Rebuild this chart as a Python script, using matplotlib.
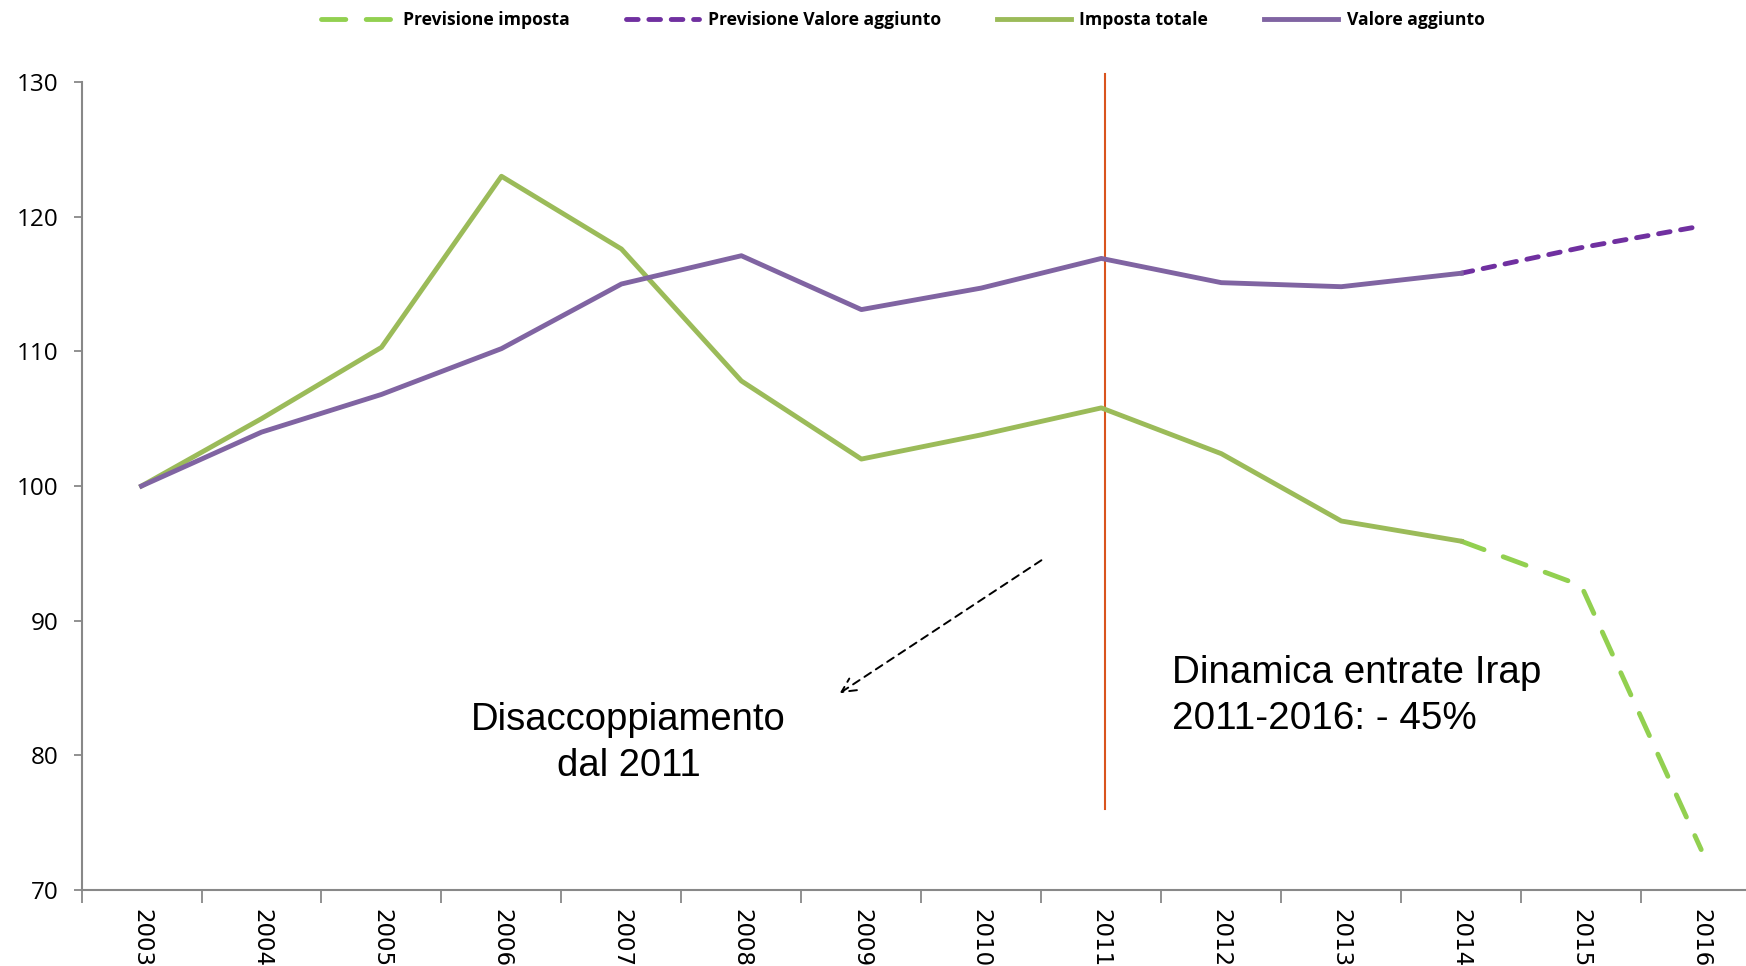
import matplotlib.pyplot as plt
import numpy as np

# Dati
anni = ['2003', '2004', '2005', '2006', '2007', '2008', '2009',
        '2010', '2011', '2012', '2013', '2014', '2015', '2016']
imposta_totale = [100, 105.0, 110.3, 123.0, 117.6, 107.8, 102.0,
                  103.8, 105.8, 102.4, 97.4, 95.9, np.nan, np.nan]
valore_aggiunto = [100, 104.0, 106.8, 110.2, 115.0, 117.1, 113.1,
                   114.7, 116.9, 115.1, 114.8, 115.8, np.nan, np.nan]
previsione_imposta = [np.nan] * 11 + [95.9, 92.6, 73.0]
previsione_valore = [np.nan] * 11 + [115.8, 117.7, 119.3]

fig = plt.figure(figsize=(17.46, 9.66), dpi=100)
ax = fig.add_axes([0.0467, 0.0787, 0.962, 0.8364])

x = np.arange(len(anni))

# linea verticale 2011
ax.plot([8.03, 8.03], [76.0, 130.6], color='#D9541E', lw=1.5, clip_on=False, zorder=1)

l1, = ax.plot(x, previsione_imposta, color='#92D050', lw=3.5,
              dashes=(5.0, 4.2), dash_capstyle='round', zorder=3)
l2, = ax.plot(x, previsione_valore, color='#7030A0', lw=3.5,
              dashes=(2.4, 2.2), dash_capstyle='round', zorder=3)
l3, = ax.plot(x, imposta_totale, color='#9BBB59', lw=3.5, zorder=4)
l4, = ax.plot(x, valore_aggiunto, color='#8064A2', lw=3.5, zorder=4)

ax.set_xlim(-0.5, 13.5)
ax.set_ylim(70, 130)
ax.set_yticks(range(70, 131, 10))
ax.set_xticks(x)
ax.set_xticklabels(anni, rotation=-90, fontsize=16.5, family='DejaVu Sans')
ax.set_xticks(np.arange(-0.5, 14, 1), minor=True)
ax.tick_params(axis='x', which='major', length=0, pad=14)
ax.tick_params(axis='x', which='minor', length=9.5, width=1.3, color='#888888')
ax.tick_params(axis='y', length=5.5, width=1.3, color='#888888', pad=11)
for lab in ax.get_yticklabels():
    lab.set_family('Open Sans')
    lab.set_fontsize(17.5)

for s in ['top', 'right']:
    ax.spines[s].set_visible(False)
for s in ['left', 'bottom']:
    ax.spines[s].set_color('#888888')
    ax.spines[s].set_linewidth(1.5)

# annotazioni
ax.annotate('', xy=(5.8, 84.5), xytext=(7.52, 94.6),
            arrowprops=dict(arrowstyle='->', linestyle=(0, (4, 3)), lw=1.4,
                            color='black', mutation_scale=25))
ax.text(4.06, 80.9, 'Disaccoppiamento\ndal 2011', ha='center', va='center',
        fontsize=27.5, family='Liberation Sans', linespacing=1.35)
ax.text(8.59, 84.4, 'Dinamica entrate Irap\n2011-2016: - 45%', ha='left', va='center',
        fontsize=27.8, family='Liberation Sans', linespacing=1.35)

fig.legend([l1, l2, l3, l4],
           ['Previsione imposta', 'Previsione Valore aggiunto', 'Imposta totale', 'Valore aggiunto'],
           loc='upper center', bbox_to_anchor=(0.517, 1.005), ncol=4, frameon=False,
           prop={'family': 'Open Sans', 'weight': 'bold', 'size': 12.6},
           handlelength=4.2, handletextpad=0.5, columnspacing=3.2)

fig.savefig('out.png', dpi=100)
